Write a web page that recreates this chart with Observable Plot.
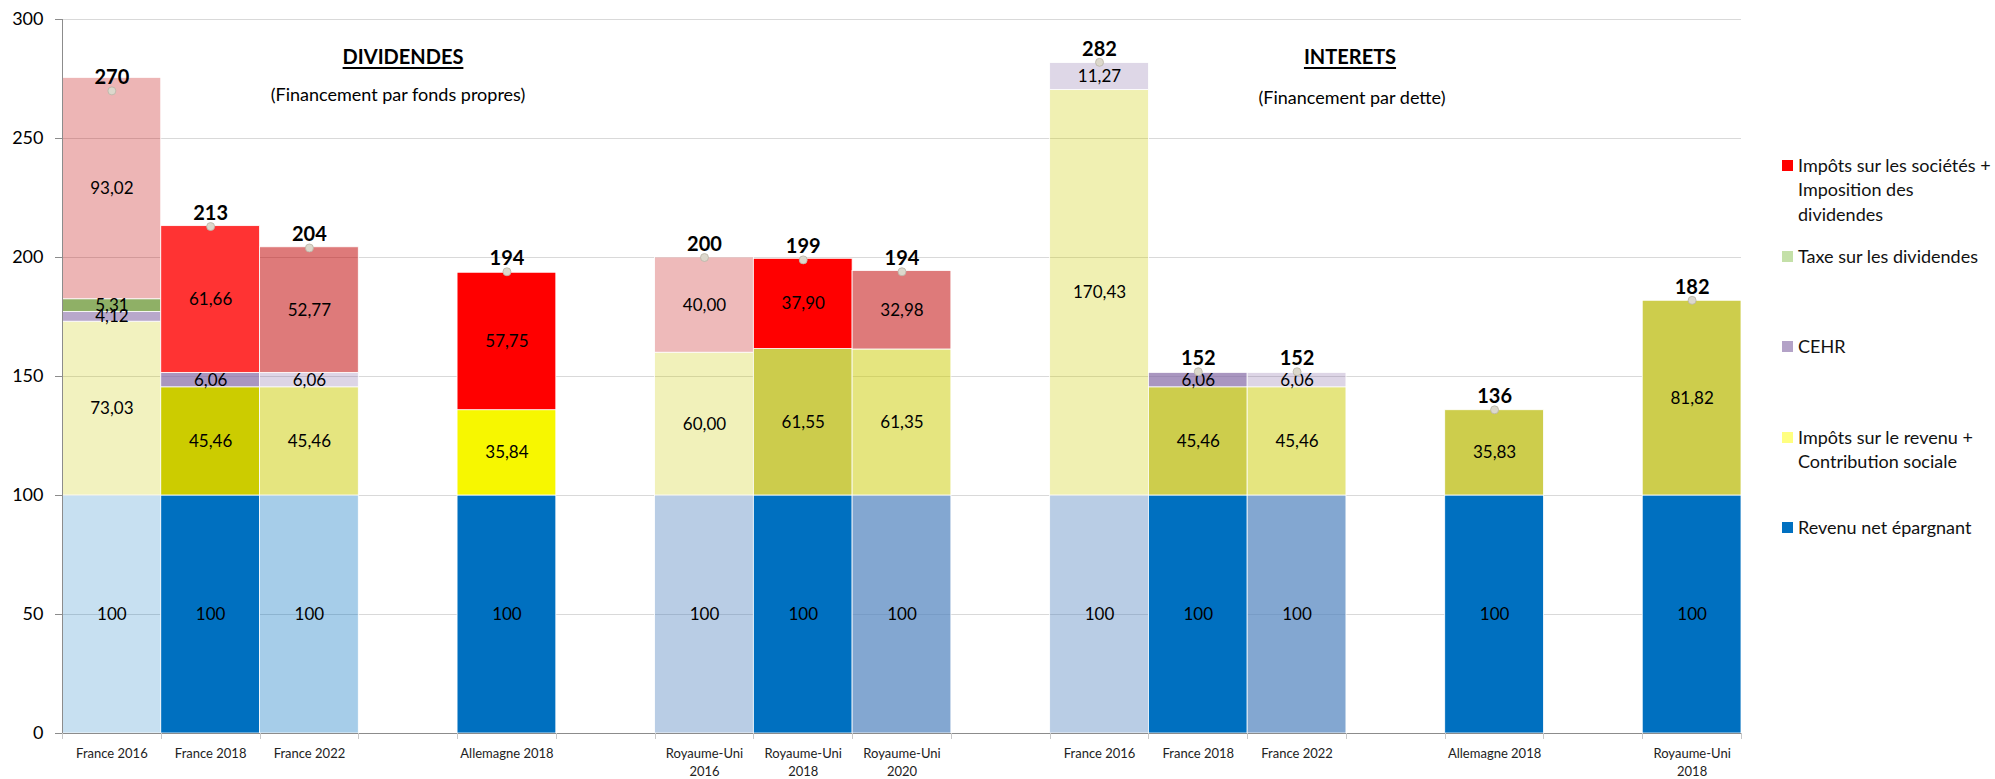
<!DOCTYPE html>
<html>
<head>
<meta charset="utf-8">
<script src="https://cdn.jsdelivr.net/npm/d3@7"></script>
<script src="https://cdn.jsdelivr.net/npm/@observablehq/plot@0.6"></script>
<style>
  body { margin: 0; background: #fff; font-family: Lato, "Open Sans", sans-serif; }
  #wrap { position: relative; width: 1995px; height: 779px; overflow: hidden; }
  #wrap svg { display: block; }
  .ann { position: absolute; transform: translate(-50%, -50%); white-space: nowrap; color: #000; }
  .title { font-weight: bold; font-size: 20px; text-decoration: underline; text-underline-offset: 3px; }
  .sub { font-size: 18px; }
  .leg { position: absolute; left: 1798px; font-size: 18px; line-height: 24.5px; color: #111; white-space: pre; }
  .sw { position: absolute; left: -16px; top: 7px; width: 11px; height: 11px; }
</style>
</head>
<body>
<div id="wrap"></div>
<script>
// ---- categories ----
const slotOrder = ["d-fr16","d-fr18","d-fr22","gap1","d-de18","gap2","d-uk16","d-uk18","d-uk20","gap3",
                   "i-fr16","i-fr18","i-fr22","gap4","i-de18","gap5","i-uk18"];
const barIds = ["d-fr16","d-fr18","d-fr22","d-de18","d-uk16","d-uk18","d-uk20",
                "i-fr16","i-fr18","i-fr22","i-de18","i-uk18"];
const barLabels = ["France 2016","France 2018","France 2022","Allemagne 2018",
                   "Royaume-Uni\n2016","Royaume-Uni\n2018","Royaume-Uni\n2020",
                   "France 2016","France 2018","France 2022","Allemagne 2018","Royaume-Uni\n2018"];
const seriesNames = ["Revenu net épargnant",
                     "Impôts sur le revenu + Contribution sociale",
                     "CEHR",
                     "Taxe sur les dividendes",
                     "Impôts sur les sociétés + Imposition des dividendes"];
const legendLabels = ["Impôts sur les sociétés +\nImposition des\ndividendes",
                      "Taxe sur les dividendes",
                      "CEHR",
                      "Impôts sur le revenu +\nContribution sociale",
                      "Revenu net épargnant"];

// ---- series values (one per bar) ----
const revenuNet      = [100, 100, 100, 100, 100, 100, 100, 100, 100, 100, 100, 100];
const impotsRevenu   = [73.03, 45.46, 45.46, 35.84, 60.00, 61.55, 61.35, 170.43, 45.46, 45.46, 35.83, 81.82];
const cehr           = [4.12, 6.06, 6.06, 0, 0, 0, 0, 11.27, 6.06, 6.06, 0, 0];
const taxeDividendes = [5.31, 0, 0, 0, 0, 0, 0, 0, 0, 0, 0, 0];
const impotsSocietes = [93.02, 61.66, 52.77, 57.75, 40.00, 37.90, 32.98, 0, 0, 0, 0, 0];
const totals         = [270, 213, 204, 194, 200, 199, 194, 282, 152, 152, 136, 182];

// ---- styles (fills per bar, per series) ----
const fillRevenu   = ["rgba(0,112,192,0.22)","#0070C0","rgba(0,112,192,0.35)","#0070C0","rgba(79,129,189,0.40)","#0070C0",
                      "rgba(79,129,189,0.70)","rgba(79,129,189,0.40)","#0070C0","rgba(79,129,189,0.70)","#0070C0","#0070C0"];
const fillRevenuIR = ["rgba(204,204,0,0.25)","#CCCC00","rgba(204,204,0,0.50)","#F7F700","rgba(204,204,0,0.27)","#CCCC4C",
                      "rgba(204,204,0,0.50)","rgba(204,204,0,0.30)","#CDCD4C","rgba(204,204,0,0.50)","#CDCD4C","#CDCD4C"];
const fillCEHR     = ["rgba(128,100,162,0.56)","rgba(128,100,162,0.68)","rgba(128,100,162,0.27)","none","none","none",
                      "none","rgba(128,100,162,0.26)","rgba(128,100,162,0.68)","rgba(128,100,162,0.27)","none","none"];
const fillTaxe     = ["#8FB066","none","none","none","none","none","none","none","none","none","none","none"];
const fillIS       = ["rgba(192,0,0,0.29)","#FF3333","rgba(192,0,0,0.52)","#FF0000","rgba(192,0,0,0.27)","#FF0000",
                      "rgba(192,0,0,0.52)","none","none","none","none","none"];
const legendColors = ["#FF0000","#C4E0A8","#B3A2C7","#FFFF80","#0070C0"];

// ---- build table ----
const seriesValues = [revenuNet, impotsRevenu, cehr, taxeDividendes, impotsSocietes];
const seriesFills  = [fillRevenu, fillRevenuIR, fillCEHR, fillTaxe, fillIS];
const rows = [];
barIds.forEach((id, i) => {
  seriesNames.forEach((s, k) => {
    const v = seriesValues[k][i];
    if (v > 0) rows.push({bar: id, series: s, value: v, fill: seriesFills[k][i]});
  });
});
const totalRows = barIds.map((id, i) => ({bar: id, total: totals[i]}));
const labelOf = Object.fromEntries(barIds.map((id, i) => [id, barLabels[i]]));
const fmt = v => v === 100 ? "100" : v.toFixed(2).replace(".", ",");

// axis lines and boundary ticks drawn through the plot's own scales
function axisLines(index, scales, values, dims) {
  const g = d3.create("svg:g").attr("stroke", "#8c8c8c").attr("stroke-width", 1);
  const y0 = scales.y(0);
  const bw = scales.x(slotOrder[1]) - scales.x(slotOrder[0]);
  g.append("line").attr("x1", dims.marginLeft + 0.5).attr("x2", dims.marginLeft + 0.5)
    .attr("y1", dims.marginTop).attr("y2", y0);
  g.append("line").attr("x1", dims.marginLeft).attr("x2", dims.width - dims.marginRight)
    .attr("y1", y0 + 0.5).attr("y2", y0 + 0.5);
  const edges = new Set();
  barIds.forEach(id => { edges.add(Math.round(scales.x(id))); edges.add(Math.round(scales.x(id) + bw)); });
  for (const e of edges) {
    g.append("line").attr("x1", e + 0.5).attr("x2", e + 0.5).attr("y1", y0).attr("y2", y0 + 6).attr("stroke", "#c8c8c8");
  }
  return g.node();
}

const chart = Plot.plot({
  width: 1995,
  height: 779,
  marginLeft: 62,
  marginRight: 254,
  marginTop: 19,
  marginBottom: 46,
  style: {fontFamily: "Lato, 'Open Sans', sans-serif", color: "#000", background: "transparent"},
  x: {type: "band", domain: slotOrder, padding: 0, round: false, label: null},
  y: {domain: [0, 300], label: null},
  color: {type: "identity"},
  marks: [
    Plot.gridY([50, 100, 150, 200, 250, 300], {stroke: "#d9d9d9", strokeOpacity: 1}),
    Plot.barY(rows, Plot.stackY({x: "bar", y: "value", z: "series", order: seriesNames,
      fill: "fill", stroke: "#ffffff", strokeWidth: 0.8, inset: 0})),
    Plot.text(rows, Plot.stackY({x: "bar", y: "value", z: "series", order: seriesNames,
      text: d => fmt(d.value), fontSize: 17, fill: "#000"})),
    Plot.dot(totalRows, {x: "bar", y: "total", r: 4, fill: "#dcd8cc", stroke: "#b9b4a6", strokeWidth: 0.8}),
    Plot.text(totalRows, {x: "bar", y: "total", text: d => String(d.total), dy: -13,
      fontSize: 20, fontWeight: "bold", fill: "#000"}),
    axisLines,
    Plot.axisY({ticks: [0, 50, 100, 150, 200, 250, 300], tickSize: 7, tickPadding: 12, fontSize: 18,
      stroke: "#8c8c8c", label: null}),
    Plot.axisX({tickSize: 0, tickPadding: 12, fontSize: 13, lineHeight: 1.38, label: null,
      tickFormat: id => labelOf[id] ?? "", fill: "#222"})
  ]
});

const wrap = document.getElementById("wrap");
wrap.appendChild(chart);

// titles
const titles = [
  {text: "DIVIDENDES", cls: "title", x: 403, y: 56},
  {text: "(Financement par fonds propres)", cls: "sub", x: 398, y: 94},
  {text: "INTERETS", cls: "title", x: 1350, y: 56},
  {text: "(Financement par dette)", cls: "sub", x: 1352, y: 97}
];
titles.forEach(t => {
  const d = document.createElement("div");
  d.className = "ann " + t.cls;
  d.style.left = t.x + "px"; d.style.top = t.y + "px";
  d.textContent = t.text;
  wrap.appendChild(d);
});

// legend
const legendTops = [152.75, 243.75, 333.75, 424.75, 514.75];
legendLabels.forEach((lab, i) => {
  const d = document.createElement("div");
  d.className = "leg";
  d.style.top = legendTops[i] + "px";
  const sw = document.createElement("span");
  sw.className = "sw";
  sw.style.background = legendColors[i];
  d.appendChild(sw);
  d.appendChild(document.createTextNode(lab));
  wrap.appendChild(d);
});
</script>
</body>
</html>
